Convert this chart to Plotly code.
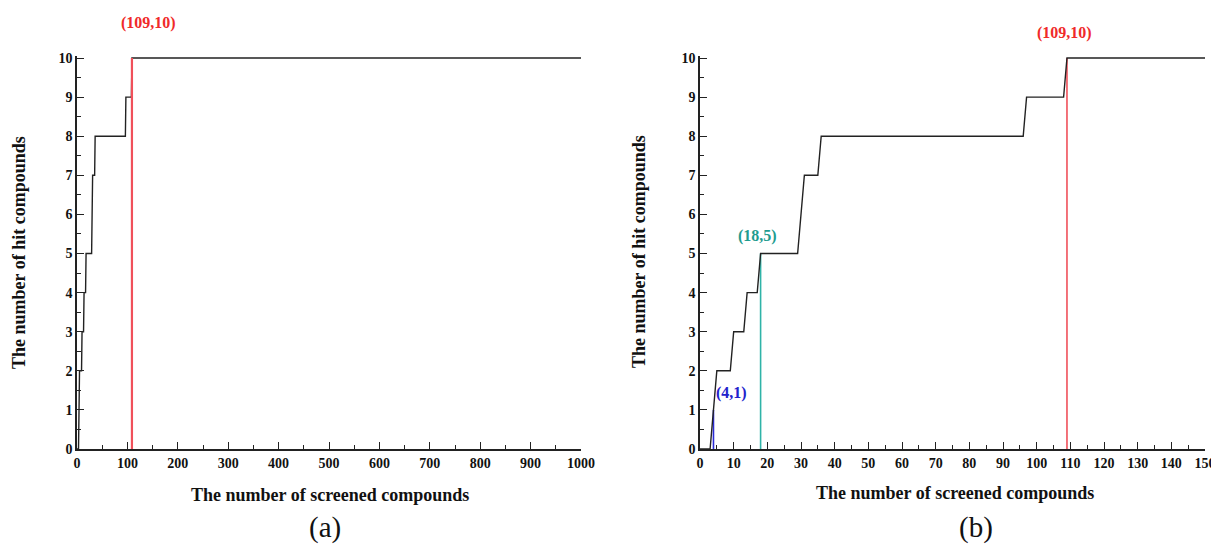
import plotly.graph_objects as go

# Cumulative hit curve (rank of screened compound -> number of hits found)
screened = [0, 3, 4, 5, 9, 10, 13, 14, 17, 18, 29, 30, 31, 35, 36, 96, 97, 108, 109, 1000]
hits =     [0, 0, 1, 2, 2, 3, 3, 4, 4, 5, 5, 6, 7, 7, 8, 8, 9, 9, 10, 10]

# Marked points
mark_x_a = [109]
mark_y_a = [10]
mark_x_b = [4, 18, 109]
mark_y_b = [1, 5, 10]
mark_colors_b = ["#2b2bd6", "#2fb3a8", "#f0505a"]
mark_text_colors_b = ["#2222cc", "#1f9c90", "#f02a2a"]

x_range_a = [0, 1000]
x_range_b = [0, 150]
y_range = [0, 10]

# page body has an 8px margin; size the figure so it fills the window
OFF = 8
W, H = 1219 - OFF, 546 - OFF
def px(x): return (x - OFF) / W
def py(y): return 1 - (y - OFF) / H

# pixel geometry of the two panels (window coordinates)
A_L, A_R = 77, 581
B_L, B_R = 700, 1205
P_T, P_B = 58, 449

def ax_px(v, lo, hi, rng):
    return lo + (v - rng[0]) / (rng[1] - rng[0]) * (hi - lo)

def ay_px(v):
    return P_B - (v - y_range[0]) / (y_range[1] - y_range[0]) * (P_B - P_T)

fig = go.Figure()

# Panel (a)
fig.add_trace(go.Scatter(x=screened, y=hits, mode="lines",
                         line=dict(color="#222222", width=1.4),
                         xaxis="x", yaxis="y", showlegend=False))
for mx, my in zip(mark_x_a, mark_y_a):
    fig.add_trace(go.Scatter(x=[mx, mx], y=[0, my], mode="lines",
                             line=dict(color="#f0505a", width=2.2),
                             xaxis="x", yaxis="y", showlegend=False))

# Panel (b)
for mx, my, c in zip(mark_x_b, mark_y_b, mark_colors_b):
    fig.add_trace(go.Scatter(x=[mx, mx], y=[0, my], mode="lines",
                             line=dict(color=c, width=1.6),
                             xaxis="x2", yaxis="y2", showlegend=False))
xb = [v for v in screened if v <= 150] + [150]
yb = hits[:len(xb) - 1] + [10]
fig.add_trace(go.Scatter(x=xb, y=yb, mode="lines",
                         line=dict(color="#222222", width=1.4),
                         xaxis="x2", yaxis="y2", showlegend=False))

tickfont = dict(family="Liberation Serif", size=14, color="#111111")
axis_common = dict(showline=True, linecolor="#222222", linewidth=1.6,
                   ticks="inside", ticklen=7, tickwidth=1.4, tickcolor="#222222",
                   showgrid=False, zeroline=False, tickfont=tickfont, mirror=False,
                   automargin=False)

ytop = 10.06
ydom = [py(P_B), py(P_B - (ytop / 10) * (P_B - P_T))]
fig.update_layout(
    width=W, height=H,
    margin=dict(l=0, r=0, t=0, b=0, autoexpand=False),
    paper_bgcolor="white", plot_bgcolor="white",
    xaxis=dict(domain=[px(A_L), px(A_R)], range=x_range_a, dtick=100,
               minor=dict(ticks="inside", dtick=50, ticklen=4, tickcolor="#222222"),
               anchor="y", **axis_common),
    yaxis=dict(domain=ydom, range=[0, ytop], dtick=1,
               minor=dict(ticks="inside", dtick=0.5, ticklen=4, tickcolor="#222222"),
               anchor="x", **axis_common),
    xaxis2=dict(domain=[px(B_L), px(B_R)], range=x_range_b, dtick=10,
                minor=dict(ticks="inside", dtick=5, ticklen=4, tickcolor="#222222"),
                anchor="y2", **axis_common),
    yaxis2=dict(domain=ydom, range=[0, ytop], dtick=1,
                minor=dict(ticks="inside", dtick=0.5, ticklen=4, tickcolor="#222222"),
                anchor="x2", **axis_common),
)

for ax in ["xaxis", "xaxis2", "yaxis", "yaxis2"]:
    fig.layout[ax].tickformat = "d"

fig.update_xaxes(tickprefix="<b>", ticksuffix="</b>")
fig.update_yaxes(tickprefix="<b>", ticksuffix="</b>")

ann = []
def add_text(x, y, text, font, angle=0):
    ann.append(dict(x=px(x), y=py(y), xref="paper", yref="paper", text=text,
                    xanchor="center", yanchor="middle", showarrow=False,
                    font=font, textangle=angle))

title_font = dict(family="Liberation Serif", size=18, color="#111111")
# axis titles
add_text(330, 495, "<b>The number of screened compounds</b>", title_font)
add_text(955, 493, "<b>The number of screened compounds</b>", title_font)
add_text(19, 253, "<b>The number of hit compounds</b>", title_font, -90)
add_text(639, 252, "<b>The number of hit compounds</b>", title_font, -90)
# panel labels
panel_font = dict(family="Liberation Serif", size=29, color="#111111")
add_text(325, 527, "(a)", panel_font)
add_text(976, 527, "(b)", panel_font)
# point labels (placed relative to the marked points)
lab_font = lambda c: dict(family="Liberation Serif", size=16, color=c)
for mx, my in zip(mark_x_a, mark_y_a):
    add_text(ax_px(mx, A_L, A_R, x_range_a) + 17, ay_px(my) - 35,
             f"<b>({mx},{my})</b>", lab_font("#f02a2a"))
offsets_b = [(18, -17), (-3, -18), (-2, -25)]
for (dx, dy), mx, my, c in zip(offsets_b, mark_x_b, mark_y_b, mark_text_colors_b):
    add_text(ax_px(mx, B_L, B_R, x_range_b) + dx, ay_px(my) + dy,
             f"<b>({mx},{my})</b>", lab_font(c))

fig.update_layout(annotations=ann)
fig.write_html("out.html")
